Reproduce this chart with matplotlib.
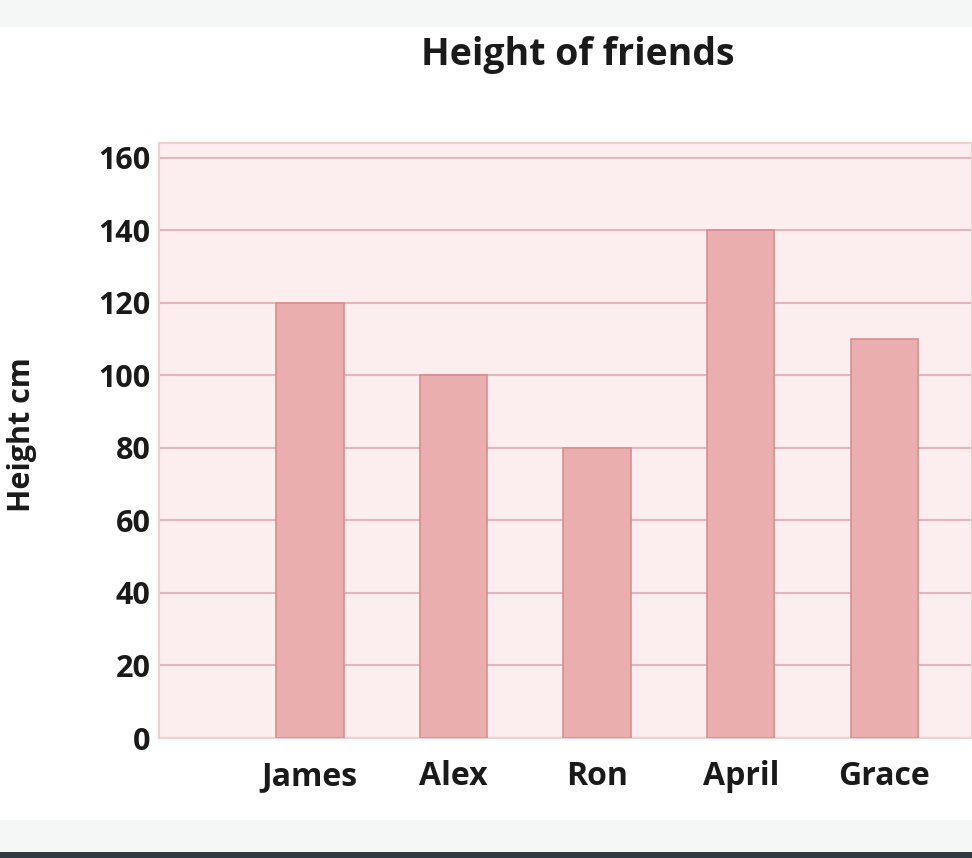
#!/usr/bin/python3

# Bar chart: height of friends in cm.

import matplotlib.pyplot as plt
from matplotlib.patches import Rectangle

names = ["James", "Alex", "Ron", "April", "Grace"]
heights = [120, 100, 80, 140, 110]
yticks = [0, 20, 40, 60, 80, 100, 120, 140, 160]

plt.rcParams["font.family"] = ["Open Sans", "DejaVu Sans"]
plt.rcParams["font.weight"] = "bold"

fig = plt.figure(figsize=(9.72, 8.58), dpi=100)
fig.patch.set_facecolor("white")

# grey bands at the top and bottom of the screenshot
fig.patches.append(Rectangle((0, 1 - 27 / 858), 1, 27 / 858, transform=fig.transFigure,
                             facecolor="#f5f7f7", edgecolor="none", zorder=0))
fig.patches.append(Rectangle((0, 6 / 858), 1, 32 / 858, transform=fig.transFigure,
                             facecolor="#f5f7f7", edgecolor="none", zorder=0))
fig.patches.append(Rectangle((0, 0), 1, 6 / 858, transform=fig.transFigure,
                             facecolor="#2e3b42", edgecolor="none", zorder=0))

ax = fig.add_axes([159 / 972, 1 - 738 / 858, 1 - 159 / 972, (738 - 143) / 858])
ax.set_facecolor("#fcedee")

x = range(len(names))
ax.bar(x, heights, width=0.47, color="#ebaeae", edgecolor="#d98d90",
       linewidth=1.2, zorder=3)

ax.set_xlim(-1.05, 4.61)
ax.set_ylim(0, 164.1)
ax.set_xticks(list(x))
ax.set_xticklabels(names)
ax.set_yticks(yticks)
ax.tick_params(length=0, labelsize=22, colors="#1a1a1a")
ax.tick_params(axis="y", pad=6)
ax.tick_params(axis="x", pad=16, labelsize=23)
for lab in ax.get_xticklabels() + ax.get_yticklabels():
    lab.set_fontweight("bold")

ax.grid(axis="y", color="#e2b6ba", linewidth=1.5, zorder=1)
for side in ["left", "top", "right", "bottom"]:
    ax.spines[side].set_color("#f0cfd2")
    ax.spines[side].set_linewidth(1.5)

fig.text(578 / 972, 1 - 55 / 858, "Height of friends", ha="center", va="center",
         fontsize=27, fontweight="bold", color="#1a1a1a")
fig.text(22 / 972, 1 - 435 / 858, "Height cm", ha="center", va="center",
         rotation=90, fontsize=22, fontweight="bold", color="#1a1a1a")

plt.savefig("out.png", dpi=100)
